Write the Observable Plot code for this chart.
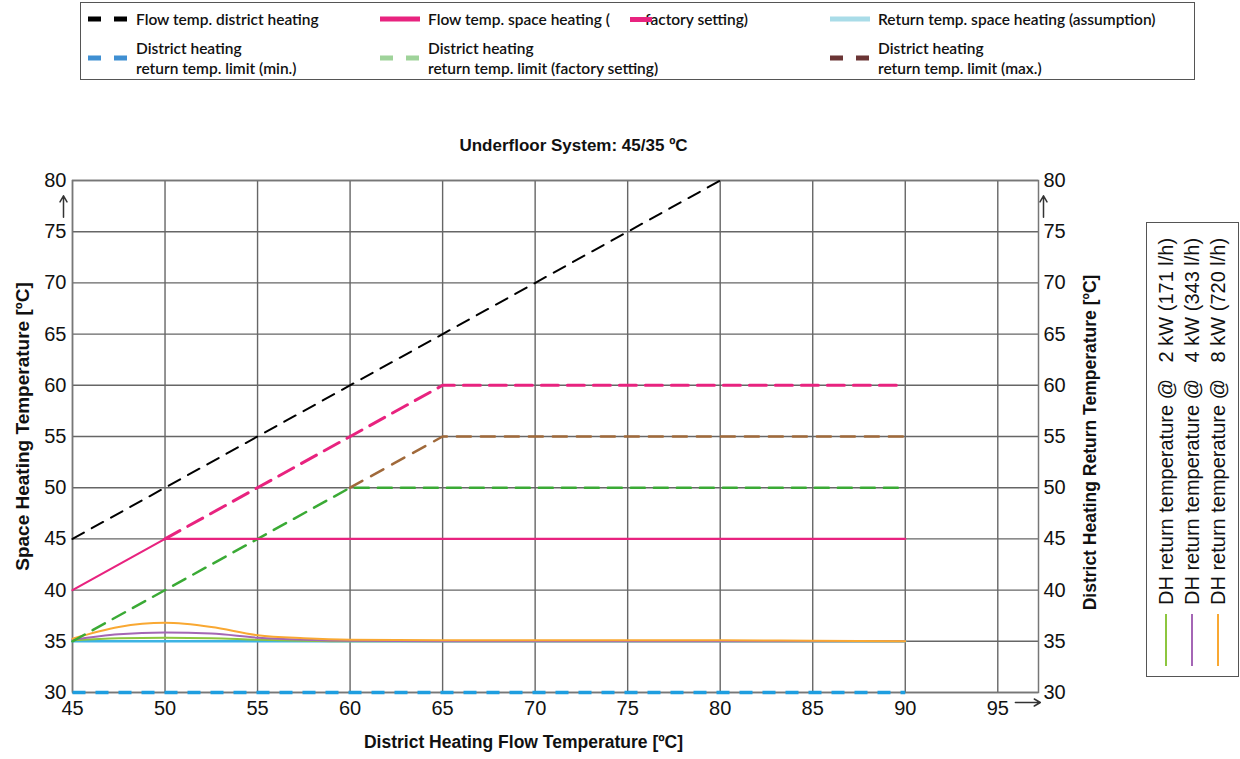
<!DOCTYPE html>
<html>
<head>
<meta charset="utf-8">
<script src="https://cdn.jsdelivr.net/npm/d3@7"></script>
<script src="https://cdn.jsdelivr.net/npm/@observablehq/plot@0.6"></script>
<style>
  body { margin: 0; background: #fff; width: 1240px; height: 759px; position: relative; overflow: hidden; }
  #legend { position: absolute; left: 80px; top: 2px; width: 1115px; height: 78px; border: 1px solid #555; box-sizing: border-box;
            font-family: Lato, "Noto Sans", sans-serif; font-weight: 600; font-size: 15.5px; color: #111; }
  .cell { position: absolute; display: flex; align-items: center; }
  .txt { line-height: 20px; white-space: pre; }
  #chart { position: absolute; left: 0; top: 82px; }
  #rlegend { position: absolute; left: 1146px; top: 222px; }
</style>
</head>
<body>
<div id="legend"></div>
<div id="chart"></div>
<svg id="rlegend" width="93" height="455"></svg>
<script>
// ---------- data ----------
const xTicks = [45, 50, 55, 60, 65, 70, 75, 80, 85, 90, 95];
const yTicks = [30, 35, 40, 45, 50, 55, 60, 65, 70, 75, 80];

const flowDH_x = [45, 80];
const flowDH_y = [45, 80];

const flowSH_x = [45, 50, 90];
const flowSH_y = [40, 45, 45];

const flowSHFactory_x = [50, 65, 90];
const flowSHFactory_y = [45, 60, 60];

const returnSH_x = [45, 90];
const returnSH_y = [35, 35];

const limitMin_x = [45, 90];
const limitMin_y = [30, 30];

const limitFactory_x = [45, 60, 90];
const limitFactory_y = [35, 50, 50];

const limitMax_x = [60, 65, 90];
const limitMax_y = [50, 55, 55];

const dhReturn_x   = [45, 47.5, 50, 52.5, 55, 57.5, 60, 65, 70, 75, 80, 85, 90];
const dhReturn2kW  = [35.1, 35.3, 35.35, 35.3, 35.15, 35.05, 35.0, 35.0, 35.0, 35.0, 35.0, 35.0, 35.0];
const dhReturn4kW  = [35.15, 35.7, 35.85, 35.75, 35.35, 35.15, 35.05, 35.0, 35.0, 35.0, 35.0, 35.0, 35.0];
const dhReturn8kW  = [35.25, 36.4, 36.8, 36.4, 35.6, 35.3, 35.15, 35.1, 35.1, 35.1, 35.1, 35.05, 35.0];

const legendLabels = [
  "Flow temp. district heating",
  "Flow temp. space heating (",
  "Return temp. space heating (assumption)",
  "District heating\nreturn temp. limit (min.)",
  "District heating\nreturn temp. limit (factory setting)",
  "District heating\nreturn temp. limit (max.)"
];
const legendExtra = "factory setting)";
const legendColors = ["#000000", "#e8237f", "#a9dce8", "#3f8fd2", "#9fd39a", "#6b3535"];
const legendDashed = [true, false, false, true, true, true];

const rightLegendLabels = [
  "DH return temperature @   2 kW (171 l/h)",
  "DH return temperature @   4 kW (343 l/h)",
  "DH return temperature @   8 kW (720 l/h)"
];
const rightLegendColors = ["#8dc63f", "#a466b5", "#f9a832"];

// ---------- helpers ----------
const pts = (xs, ys) => xs.map((x, i) => ({x, y: ys[i]}));

// ---------- top legend ----------
const legend = document.getElementById("legend");
const colLeft = [7, 299, 749];
const rowTop = [6, 35];
legendLabels.forEach((lab, i) => {
  const cell = document.createElement("div");
  cell.className = "cell";
  const row = Math.floor(i / 3), col = i % 3;
  cell.style.left = colLeft[col] + "px";
  cell.style.top = rowTop[row] + "px";
  const sw = document.createElementNS("http://www.w3.org/2000/svg", "svg");
  sw.setAttribute("width", 40); sw.setAttribute("height", 8);
  sw.style.marginRight = "8px";
  const ln = document.createElementNS("http://www.w3.org/2000/svg", "line");
  ln.setAttribute("x1", 0); ln.setAttribute("x2", 40);
  ln.setAttribute("y1", 4); ln.setAttribute("y2", 4);
  ln.setAttribute("stroke", legendColors[i]); ln.setAttribute("stroke-width", 5);
  if (legendDashed[i]) ln.setAttribute("stroke-dasharray", "13,13");
  sw.appendChild(ln);
  cell.appendChild(sw);
  const t = document.createElement("div");
  t.className = "txt";
  t.textContent = lab;
  cell.appendChild(t);
  if (i === 1) {
    const bar = document.createElement("span");
    bar.style.cssText = `display:inline-block;width:22px;height:5px;background:${legendColors[1]};margin-left:20px;margin-right:-7px;position:relative;z-index:1`;
    cell.appendChild(bar);
    const t2 = document.createElement("div");
    t2.className = "txt";
    t2.textContent = legendExtra;
    cell.appendChild(t2);
  }
  legend.appendChild(cell);
});

// ---------- right legend ----------
const rl = d3.select("#rlegend");
rl.append("rect").attr("x", 0.5).attr("y", 0.5).attr("width", 92).attr("height", 454)
  .attr("fill", "none").attr("stroke", "#555");
rightLegendLabels.forEach((lab, i) => {
  const cx = 20 + i * 26;
  rl.append("text")
    .attr("transform", `translate(${cx},383) rotate(-90)`)
    .attr("dominant-baseline", "central")
    .attr("font-family", "Liberation Sans, Arial, sans-serif")
    .attr("font-size", 20)
    .attr("fill", "#111")
    .style("white-space", "pre")
    .attr("xml:space", "preserve")
    .text(lab);
  rl.append("line").attr("x1", cx).attr("x2", cx).attr("y1", 392).attr("y2", 444)
    .attr("stroke", rightLegendColors[i]).attr("stroke-width", 2);
});

// ---------- chart ----------
const chart = Plot.plot({
  width: 1240,
  height: 677,
  marginLeft: 72,
  marginRight: 202,
  marginTop: 98,
  marginBottom: 67,
  style: {fontFamily: "Liberation Sans, Arial, sans-serif", color: "#111", background: "transparent"},
  x: {domain: [45, 97.2]},
  y: {domain: [30, 80]},
  marks: [
    Plot.gridX(xTicks, {stroke: "#666", strokeOpacity: 1, strokeWidth: 1.4}),
    Plot.gridY(yTicks, {stroke: "#666", strokeOpacity: 1, strokeWidth: 1.4}),
    Plot.frame({stroke: "#777", strokeWidth: 1.5}),
    Plot.axisX(xTicks, {tickSize: 0, tickPadding: 8, fontSize: 20, label: null}),
    Plot.axisY(yTicks, {anchor: "left", tickSize: 0, tickPadding: 6, fontSize: 20, label: null}),
    Plot.axisY(yTicks, {anchor: "right", tickSize: 0, tickPadding: 5, fontSize: 20, label: null}),
    Plot.line(pts(returnSH_x, returnSH_y), {x: "x", y: "y", stroke: "#3db4e5", strokeWidth: 2.5}),
    Plot.line(pts(dhReturn_x, dhReturn2kW), {x: "x", y: "y", stroke: "#8dc63f", strokeWidth: 2, curve: "monotone-x"}),
    Plot.line(pts(dhReturn_x, dhReturn4kW), {x: "x", y: "y", stroke: "#a466b5", strokeWidth: 2, curve: "monotone-x"}),
    Plot.line(pts(dhReturn_x, dhReturn8kW), {x: "x", y: "y", stroke: "#f9a832", strokeWidth: 2, curve: "monotone-x"}),
    Plot.line(pts(limitMin_x, limitMin_y), {x: "x", y: "y", stroke: "#1e9ee0", strokeWidth: 3.5, strokeDasharray: "13,10", strokeLinecap: "butt"}),
    Plot.line(pts(limitFactory_x, limitFactory_y), {x: "x", y: "y", stroke: "#3aaa35", strokeWidth: 2.5, strokeDasharray: "14,9"}),
    Plot.line(pts(limitMax_x, limitMax_y), {x: "x", y: "y", stroke: "#a0693a", strokeWidth: 2.5, strokeDasharray: "14,10"}),
    Plot.line(pts(flowSHFactory_x, flowSHFactory_y), {x: "x", y: "y", stroke: "#e8237f", strokeWidth: 3, strokeDasharray: "17,9"}),
    Plot.line(pts(flowSH_x, flowSH_y), {x: "x", y: "y", stroke: "#e8237f", strokeWidth: 2.2}),
    Plot.line(pts(flowDH_x, flowDH_y), {x: "x", y: "y", stroke: "#000", strokeWidth: 2, strokeDasharray: "13,9"}),
    // arrows on axes
    Plot.arrow([{x1: 45, y1: 76.4, x2: 45, y2: 78.5}], {x1: "x1", y1: "y1", x2: "x2", y2: "y2", dx: -9, stroke: "#333", strokeWidth: 1.5, headLength: 7}),
    Plot.arrow([{x1: 97.2, y1: 76.4, x2: 97.2, y2: 78.5}], {x1: "x1", y1: "y1", x2: "x2", y2: "y2", dx: 5, stroke: "#333", strokeWidth: 1.5, headLength: 7}),
    Plot.arrow([{x1: 95.95, y1: 30, x2: 97.3, y2: 30}], {x1: "x1", y1: "y1", x2: "x2", y2: "y2", dy: 10, stroke: "#333", strokeWidth: 1.5, headLength: 7}),
    // titles
    Plot.text(["Underfloor System: 45/35 ºC"], {frameAnchor: "top", lineAnchor: "middle", dx: 18, dy: -35, fontWeight: "bold", fontSize: 17, fill: "#111"}),
    Plot.text(["District Heating Flow Temperature [ºC]"], {frameAnchor: "bottom", lineAnchor: "middle", dx: -32, dy: 50, fontWeight: "bold", fontSize: 17.5, fill: "#111"}),
    Plot.text(["Space Heating Temperature [ºC]"], {frameAnchor: "left", textAnchor: "middle", lineAnchor: "middle", dx: -50, dy: -10, rotate: -90, fontWeight: "bold", fontSize: 19, fill: "#111"}),
    Plot.text(["District Heating Return Temperature [ºC]"], {frameAnchor: "right", textAnchor: "middle", lineAnchor: "middle", dx: 52, dy: 6, rotate: -90, fontWeight: "bold", fontSize: 17.5, fill: "#111"})
  ]
});
document.getElementById("chart").appendChild(chart);
</script>
</body>
</html>
